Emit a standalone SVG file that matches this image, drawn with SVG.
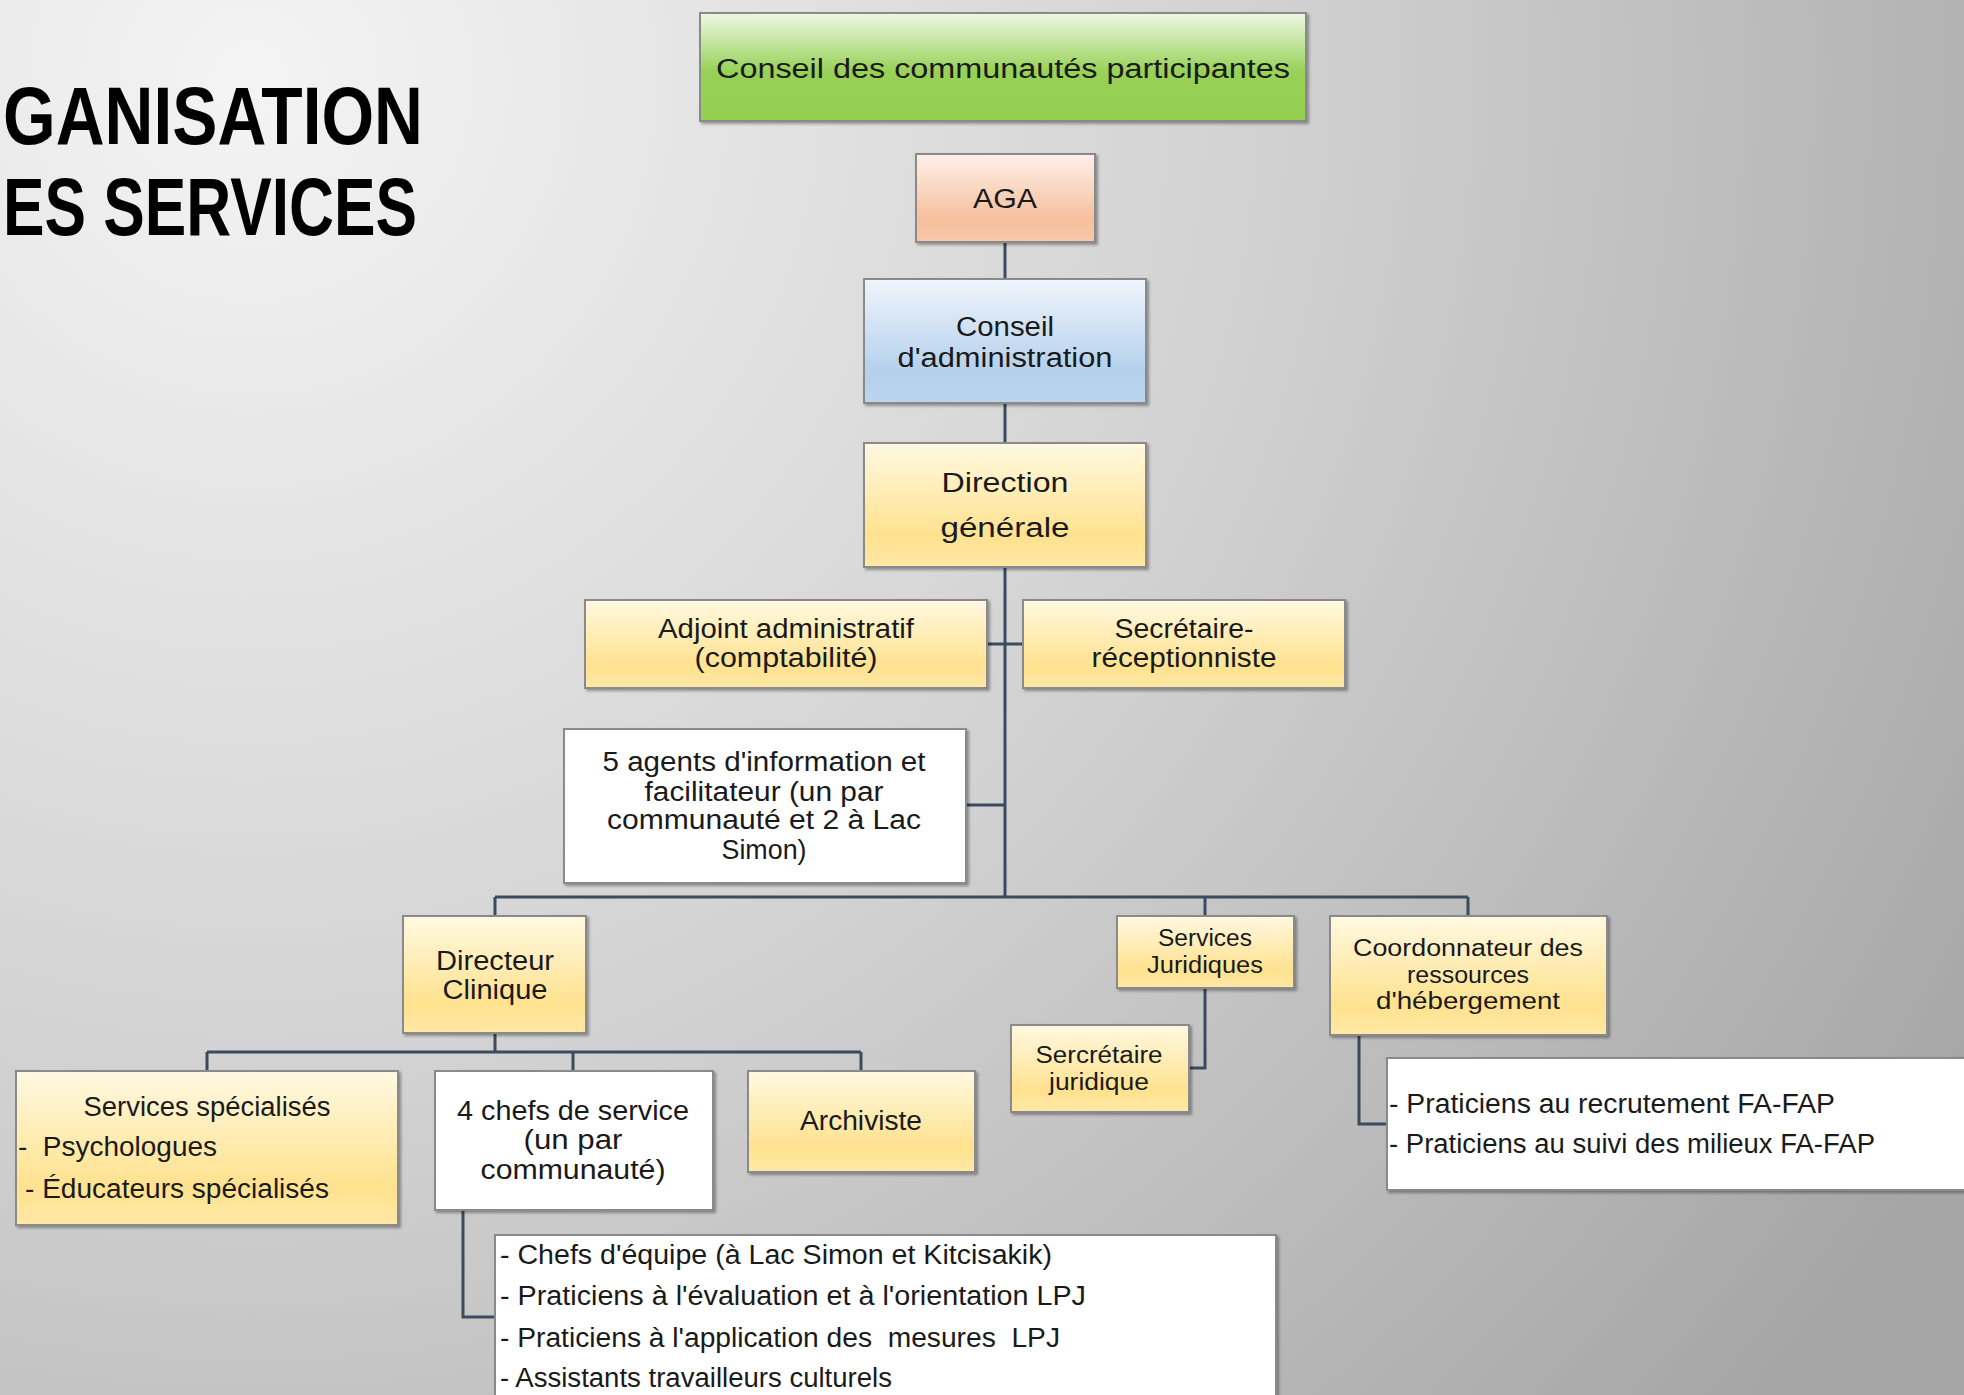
<svg xmlns="http://www.w3.org/2000/svg" width="1964" height="1395" viewBox="0 0 1964 1395">
<defs>
<radialGradient id="bg" cx="250" cy="80" r="2000" gradientUnits="userSpaceOnUse">
<stop offset="0" stop-color="#f4f4f4"/>
<stop offset="0.5" stop-color="#d2d2d2"/>
<stop offset="1" stop-color="#a6a6a6"/>
</radialGradient>
<linearGradient id="yel" x1="0" y1="0" x2="0" y2="1">
<stop offset="0" stop-color="#fff9e2"/>
<stop offset="0.75" stop-color="#ffe28f"/>
<stop offset="1" stop-color="#ffe8a6"/>
</linearGradient>
<linearGradient id="grn" x1="0" y1="0" x2="0" y2="1">
<stop offset="0" stop-color="#eef8e4"/>
<stop offset="0.55" stop-color="#97d155"/>
<stop offset="1" stop-color="#92d050"/>
</linearGradient>
<linearGradient id="org" x1="0" y1="0" x2="0" y2="1">
<stop offset="0" stop-color="#fdf0ea"/>
<stop offset="0.75" stop-color="#f6bf9c"/>
<stop offset="1" stop-color="#f7c8aa"/>
</linearGradient>
<linearGradient id="blu" x1="0" y1="0" x2="0" y2="1">
<stop offset="0" stop-color="#f0f5fc"/>
<stop offset="0.75" stop-color="#b4d0ec"/>
<stop offset="1" stop-color="#bcd5ee"/>
</linearGradient>
<filter id="sh" x="-5%" y="-5%" width="115%" height="120%">
<feDropShadow dx="2" dy="2" stdDeviation="1.5" flood-color="#000" flood-opacity="0.35"/>
</filter>
</defs>
<style>
.box{stroke:#8a8a8a;stroke-width:2;filter:url(#sh)}
.y{fill:url(#yel)}
.w{fill:#ffffff}
.t{font-family:"Liberation Sans",Arial,sans-serif;font-size:27px;fill:#1a1a1a;text-anchor:middle}
.s{font-size:23px}
.l{text-anchor:start}
.ttl{font-family:"Liberation Sans",Arial,sans-serif;font-weight:bold;font-size:82px;fill:#000}
.c{fill:none;stroke:#3b4a5e;stroke-width:3}
</style>
<rect width="1964" height="1395" fill="url(#bg)"/>

<g id="title">
<text class="ttl" x="3" y="144" textLength="420" lengthAdjust="spacingAndGlyphs">GANISATION</text>
<text class="ttl" x="3" y="235" textLength="414" lengthAdjust="spacingAndGlyphs">ES SERVICES</text>
</g>

<g id="connectors">
<path class="c" d="M1005 242V279M1005 403V443M1005 567V897"/>
<path class="c" d="M987 644H1023"/>
<path class="c" d="M966 805H1005" stroke="#111" stroke-width="4"/>
<path class="c" d="M495 897H1468M495 897V916M1205 897V916M1468 897V916"/>
<path class="c" d="M1205 988V1068H1189"/>
<path class="c" d="M1359 1035V1124H1388"/>
<path class="c" d="M495 1033V1052M207 1052H861M207 1052V1071M573 1052V1071M861 1052V1071"/>
<path class="c" d="M463 1210V1317H496"/>
</g>

<g id="n-conseil-communautes">
<rect class="box" x="700" y="13" width="606" height="108" fill="url(#grn)"/>
<text class="t" x="1003" y="78" font-size="28" textLength="574" lengthAdjust="spacingAndGlyphs">Conseil des communautés participantes</text>
</g>
<g id="n-aga">
<rect class="box" x="916" y="154" width="179" height="88" fill="url(#org)"/>
<text class="t" x="1005" y="208" font-size="28" textLength="64" lengthAdjust="spacingAndGlyphs">AGA</text>
</g>
<g id="n-ca">
<rect class="box" x="864" y="279" width="282" height="124" fill="url(#blu)"/>
<text class="t" x="1005" y="336" font-size="28" textLength="98" lengthAdjust="spacingAndGlyphs">Conseil</text>
<text class="t" x="1005" y="367" font-size="28" textLength="215" lengthAdjust="spacingAndGlyphs">d'administration</text>
</g>
<g id="n-dg">
<rect class="box y" x="864" y="443" width="282" height="124"/>
<text class="t" x="1005" y="492" font-size="29" textLength="127" lengthAdjust="spacingAndGlyphs">Direction</text>
<text class="t" x="1005" y="537" font-size="29" textLength="129" lengthAdjust="spacingAndGlyphs">générale</text>
</g>
<g id="n-adjoint">
<rect class="box y" x="585" y="600" width="402" height="88"/>
<text class="t" x="786" y="638" textLength="256" lengthAdjust="spacingAndGlyphs">Adjoint administratif</text>
<text class="t" x="786" y="667" textLength="183" lengthAdjust="spacingAndGlyphs">(comptabilité)</text>
</g>
<g id="n-secretaire">
<rect class="box y" x="1023" y="600" width="322" height="88"/>
<text class="t" x="1184" y="638" textLength="139" lengthAdjust="spacingAndGlyphs">Secrétaire-</text>
<text class="t" x="1184" y="667" textLength="185" lengthAdjust="spacingAndGlyphs">réceptionniste</text>
</g>
<g id="n-agents">
<rect class="box w" x="564" y="729" width="402" height="154"/>
<text class="t" x="764" y="771" textLength="323" lengthAdjust="spacingAndGlyphs">5 agents d'information et</text>
<text class="t" x="764" y="801" textLength="239" lengthAdjust="spacingAndGlyphs">facilitateur (un par</text>
<text class="t" x="764" y="829" textLength="314" lengthAdjust="spacingAndGlyphs">communauté et 2 à Lac</text>
<text class="t" x="764" y="859" textLength="85" lengthAdjust="spacingAndGlyphs">Simon)</text>
</g>
<g id="n-directeur-clinique">
<rect class="box y" x="403" y="916" width="183" height="117"/>
<text class="t" x="495" y="970" textLength="118" lengthAdjust="spacingAndGlyphs">Directeur</text>
<text class="t" x="495" y="999" textLength="105" lengthAdjust="spacingAndGlyphs">Clinique</text>
</g>
<g id="n-services-juridiques">
<rect class="box y" x="1117" y="916" width="177" height="72"/>
<text class="t s" x="1205" y="946" textLength="94" lengthAdjust="spacingAndGlyphs">Services</text>
<text class="t s" x="1205" y="973" textLength="116" lengthAdjust="spacingAndGlyphs">Juridiques</text>
</g>
<g id="n-coordonnateur">
<rect class="box y" x="1330" y="916" width="277" height="119"/>
<text class="t s" x="1468" y="956" textLength="230" lengthAdjust="spacingAndGlyphs">Coordonnateur des</text>
<text class="t s" x="1468" y="983" textLength="122" lengthAdjust="spacingAndGlyphs">ressources</text>
<text class="t s" x="1468" y="1009" textLength="184" lengthAdjust="spacingAndGlyphs">d'hébergement</text>
</g>
<g id="n-secretaire-juridique">
<rect class="box y" x="1011" y="1025" width="178" height="87"/>
<text class="t s" x="1099" y="1063" textLength="127" lengthAdjust="spacingAndGlyphs">Sercrétaire</text>
<text class="t s" x="1099" y="1090" textLength="100" lengthAdjust="spacingAndGlyphs">juridique</text>
</g>
<g id="n-praticiens-fafap">
<rect class="box w" x="1387" y="1058" width="590" height="132"/>
<text class="t l" x="1389" y="1113" textLength="446" lengthAdjust="spacingAndGlyphs">- Praticiens au recrutement FA-FAP</text>
<text class="t l" x="1389" y="1153" textLength="486" lengthAdjust="spacingAndGlyphs">- Praticiens au suivi des milieux FA-FAP</text>
</g>
<g id="n-services-specialises">
<rect class="box y" x="16" y="1071" width="382" height="154"/>
<text class="t" x="207" y="1116" textLength="247" lengthAdjust="spacingAndGlyphs">Services spécialisés</text>
<text class="t l" x="18" y="1156" textLength="199" lengthAdjust="spacingAndGlyphs" xml:space="preserve">-  Psychologues</text>
<text class="t l" x="25" y="1198" textLength="304" lengthAdjust="spacingAndGlyphs">- Éducateurs spécialisés</text>
</g>
<g id="n-chefs-service">
<rect class="box w" x="435" y="1071" width="278" height="139"/>
<text class="t" x="573" y="1120" textLength="232" lengthAdjust="spacingAndGlyphs">4 chefs de service</text>
<text class="t" x="573" y="1149" textLength="99" lengthAdjust="spacingAndGlyphs">(un par</text>
<text class="t" x="573" y="1179" textLength="185" lengthAdjust="spacingAndGlyphs">communauté)</text>
</g>
<g id="n-archiviste">
<rect class="box y" x="748" y="1071" width="227" height="101"/>
<text class="t" x="861" y="1130" textLength="122" lengthAdjust="spacingAndGlyphs">Archiviste</text>
</g>
<g id="n-equipes">
<rect class="box w" x="495" y="1235" width="781" height="170"/>
<text class="t l" x="500" y="1264" textLength="552" lengthAdjust="spacingAndGlyphs">- Chefs d'équipe (à Lac Simon et Kitcisakik)</text>
<text class="t l" x="500" y="1305" textLength="586" lengthAdjust="spacingAndGlyphs">- Praticiens à l'évaluation et à l'orientation LPJ</text>
<text class="t l" x="500" y="1347" textLength="560" lengthAdjust="spacingAndGlyphs" xml:space="preserve">- Praticiens à l'application des  mesures  LPJ</text>
<text class="t l" x="500" y="1387" textLength="392" lengthAdjust="spacingAndGlyphs">- Assistants travailleurs culturels</text>
</g>
</svg>
